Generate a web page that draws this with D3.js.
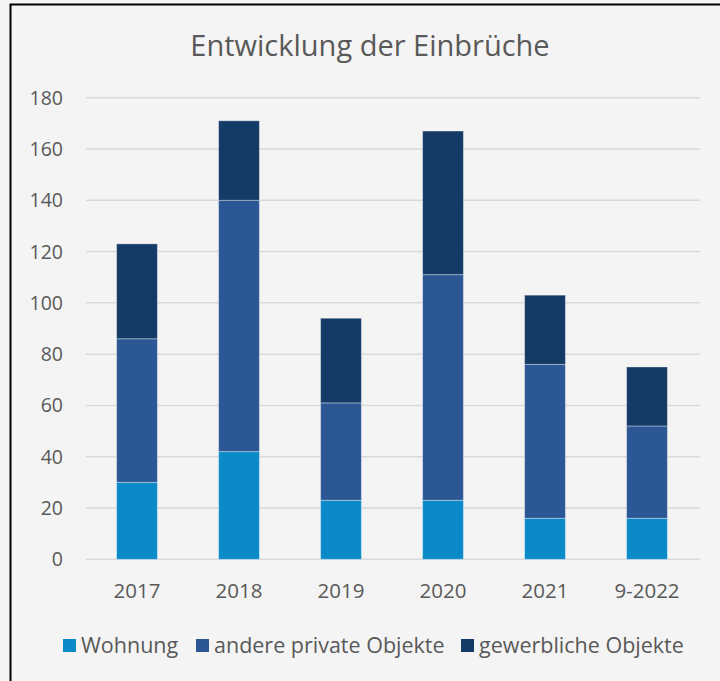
<!DOCTYPE html>
<html><head><meta charset="utf-8">
<script src="https://cdn.jsdelivr.net/npm/d3@7"></script>
<style>
html,body{margin:0;padding:0;background:#f4f4f4;}
svg{display:block;}
text{font-family:"Source Sans Pro","Open Sans",sans-serif;fill:#595959;}
</style></head>
<body><svg id="c" width="720" height="681"></svg>
<script>
const categories = ["2017","2018","2019","2020","2021","9-2022"];
const seriesNames = ["Wohnung","andere private Objekte","gewerbliche Objekte"];
const wohnung = [30, 42, 23, 23, 16, 16];
const anderePrivate = [56, 98, 38, 88, 60, 36];
const gewerbliche = [37, 31, 33, 56, 27, 23];
const yTicks = [0,20,40,60,80,100,120,140,160,180];
const colors = ["#0a8ac9","#2b5795","#143a66"];

const svg = d3.select("#c");
svg.append("rect").attr("x",0).attr("y",0).attr("width",720).attr("height",681).attr("fill","#f4f4f4");
svg.append("rect").attr("x",10.5).attr("y",4.5).attr("width",720).attr("height",690)
  .attr("fill","none").attr("stroke","#000").attr("stroke-width",2);

const x = d3.scaleBand().domain(categories).range([86,698]).paddingInner(0.6).paddingOuter(0.3);
const y = d3.scaleLinear().domain([0,180]).range([559.3,97.7]);

svg.append("text").attr("x",370).attr("y",56).attr("text-anchor","middle")
  .style("font-size","29px").text("Entwicklung der Einbrüche");

const gy = svg.append("g");
gy.selectAll("line").data(yTicks).join("line")
  .attr("x1",86).attr("x2",700).attr("y1",d=>y(d)).attr("y2",d=>y(d))
  .attr("stroke","#d9d9d9").attr("stroke-width",1.5);
gy.selectAll("text").data(yTicks).join("text")
  .attr("x",63).attr("y",d=>y(d)).attr("dy","0.36em").attr("text-anchor","end")
  .style("font-size","19.5px").text(d=>d);

const rows = categories.map((c,i)=>({cat:c, w:wohnung[i], a:anderePrivate[i], g:gewerbliche[i]}));
const stack = d3.stack().keys(["w","a","g"])(rows);
svg.append("g").selectAll("g").data(stack).join("g").attr("fill",(d,i)=>colors[i])
  .selectAll("rect").data(d=>d).join("rect")
  .attr("x",d=>x(d.data.cat)).attr("width",x.bandwidth())
  .attr("y",d=>y(d[1])).attr("height",d=>y(d[0])-y(d[1]))
  .attr("stroke","rgba(255,255,255,0.35)").attr("stroke-width",1);

const xAxis = d3.axisBottom(x).tickSize(0).tickPadding(0);
const gx = svg.append("g").attr("transform","translate(0,591)").call(xAxis);
gx.select(".domain").remove();
gx.selectAll("text").attr("dy","0.36em").style("font-size","20.5px").style("font-family",null).attr("fill",null);

const legendX = [63, 196, 461];
const lg = svg.append("g");
seriesNames.forEach((n,i)=>{
  lg.append("rect").attr("x",legendX[i]).attr("y",639).attr("width",13).attr("height",13).attr("fill",colors[i]);
  lg.append("text").attr("x",legendX[i]+18).attr("y",645.5).attr("dy","0.36em").style("font-size","21.5px").text(n);
});
</script></body></html>
